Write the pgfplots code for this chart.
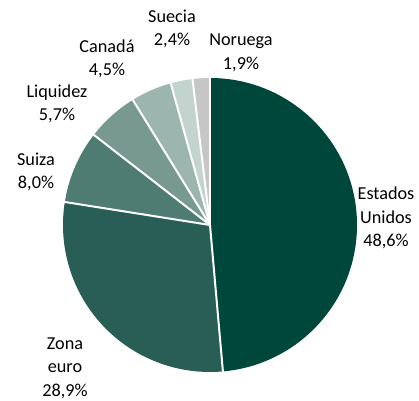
\documentclass[border=0pt]{standalone}
\usepackage{pgfplots}
\pgfplotsset{compat=1.18}
\usepackage{fontspec}
\setmainfont{Carlito}
\definecolor{cEU}{HTML}{00473B}
\definecolor{cZE}{HTML}{285E55}
\definecolor{cSU}{HTML}{4E7C73}
\definecolor{cLI}{HTML}{77998F}
\definecolor{cCA}{HTML}{9CB5AE}
\definecolor{cSE}{HTML}{C3D3CE}
\definecolor{cNO}{HTML}{C6C6C6}
\begin{document}
\begin{tikzpicture}
% shares (%)
\def\vEU{48.6}\def\vZE{28.9}\def\vSU{8.0}\def\vLI{5.7}\def\vCA{4.5}\def\vSE{2.4}\def\vNO{1.9}
\pgfmathsetmacro{\aA}{90}
\pgfmathsetmacro{\aB}{\aA-3.6*\vEU}
\pgfmathsetmacro{\aC}{\aB-3.6*\vZE}
\pgfmathsetmacro{\aD}{\aC-3.6*\vSU}
\pgfmathsetmacro{\aE}{\aD-3.6*\vLI}
\pgfmathsetmacro{\aF}{\aE-3.6*\vCA}
\pgfmathsetmacro{\aG}{\aF-3.6*\vSE}
\pgfmathsetmacro{\aH}{\aG-3.6*\vNO}
\path (0,0) rectangle (419bp,401bp);
\begin{axis}[at={(0,0)}, anchor=south west, width=419bp, height=401bp,
  scale only axis, xmin=0, xmax=419, ymin=0, ymax=401, hide axis, clip=false]
\fill[cEU] (axis cs:210,176) -- ++(\aA:147bp) arc[start angle=\aA, end angle=\aB, radius=147bp] -- cycle;
\fill[cZE] (axis cs:210,176) -- ++(\aB:147bp) arc[start angle=\aB, end angle=\aC, radius=147bp] -- cycle;
\fill[cSU] (axis cs:210,176) -- ++(\aC:147bp) arc[start angle=\aC, end angle=\aD, radius=147bp] -- cycle;
\fill[cLI] (axis cs:210,176) -- ++(\aD:147bp) arc[start angle=\aD, end angle=\aE, radius=147bp] -- cycle;
\fill[cCA] (axis cs:210,176) -- ++(\aE:147bp) arc[start angle=\aE, end angle=\aF, radius=147bp] -- cycle;
\fill[cSE] (axis cs:210,176) -- ++(\aF:147bp) arc[start angle=\aF, end angle=\aG, radius=147bp] -- cycle;
\fill[cNO] (axis cs:210,176) -- ++(\aG:147bp) arc[start angle=\aG, end angle=\aH, radius=147bp] -- cycle;
\draw[white, line width=2pt] (axis cs:210,176) -- ++(\aA:148bp);
\draw[white, line width=2pt] (axis cs:210,176) -- ++(\aB:148bp);
\draw[white, line width=2pt] (axis cs:210,176) -- ++(\aC:148bp);
\draw[white, line width=2pt] (axis cs:210,176) -- ++(\aD:148bp);
\draw[white, line width=2pt] (axis cs:210,176) -- ++(\aE:148bp);
\draw[white, line width=2pt] (axis cs:210,176) -- ++(\aF:148bp);
\draw[white, line width=2pt] (axis cs:210,176) -- ++(\aG:148bp);
\begin{scope}[every node/.style={align=center, font=\fontsize{18.3}{23.5}\selectfont, text=black, inner sep=0pt}]
\node at (axis cs:386,183) {Estados\\Unidos\\48,6\%};
\node at (axis cs:65,33) {Zona\\euro\\28,9\%};
\node at (axis cs:36,229) {Suiza\\8,0\%};
\node at (axis cs:57,297) {Liquidez\\5,7\%};
\node at (axis cs:107,342) {Canadá\\4,5\%};
\node at (axis cs:172,372) {Suecia\\2,4\%};
\node at (axis cs:241,348) {Noruega\\1,9\%};
\end{scope}
\end{axis}
\end{tikzpicture}
\end{document}
